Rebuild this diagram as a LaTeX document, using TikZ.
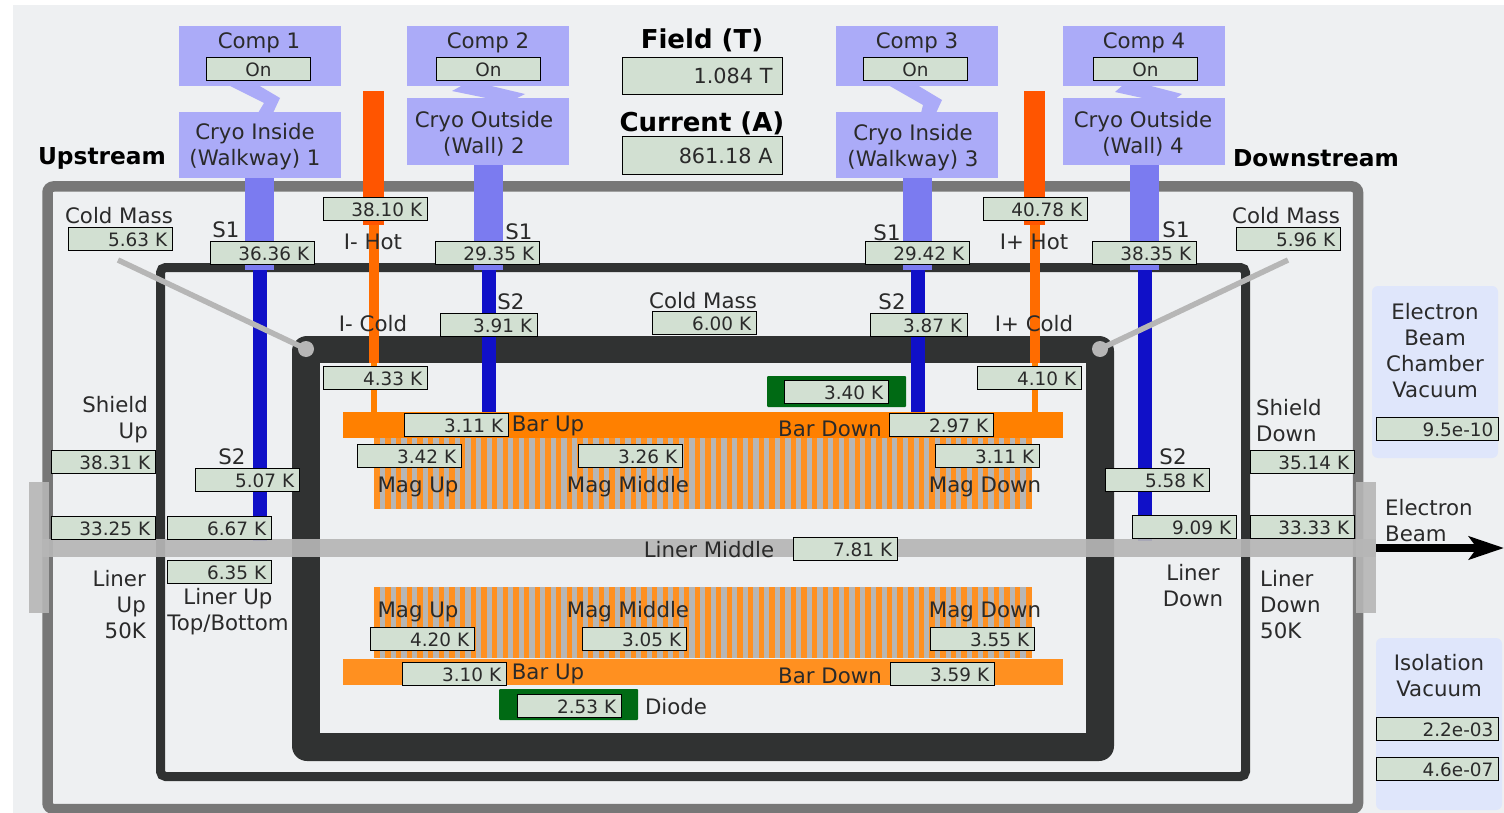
\documentclass[tikz,border=0pt]{standalone}
\usepackage{fontspec}
\setmainfont{DejaVu Sans}
\usetikzlibrary{arrows.meta}
\definecolor{panel}{HTML}{EEF0F2}
\definecolor{vessel}{HTML}{777777}
\definecolor{darkwall}{HTML}{303232}
\definecolor{compblue}{HTML}{ABABF8}
\definecolor{pipelight}{HTML}{7B7BF0}
\definecolor{pipedark}{HTML}{1010C8}
\definecolor{valfill}{HTML}{D2E0D2}
\definecolor{vacblue}{HTML}{DFE6FB}
\definecolor{hotA}{HTML}{FF5500}
\definecolor{hotB}{HTML}{FF6C00}
\definecolor{hotC}{HTML}{FF8000}
\definecolor{barB}{HTML}{FF9020}
\definecolor{magor}{HTML}{FF9020}
\definecolor{liner}{HTML}{B6B6B6}
\definecolor{diode}{HTML}{006A14}
\definecolor{ink}{HTML}{2A2A2A}
\tikzset{
  lab/.style={font=\fontsize{21.3}{26}\selectfont,text=ink,inner sep=0pt,align=center,yshift=-1.5pt},
  labl/.style={lab,align=left},
  labr/.style={lab,align=right},
  head/.style={font=\fontsize{23.3}{28}\selectfont\bfseries,text=black,inner sep=0pt},
  headbig/.style={head,font=\fontsize{26}{30}\selectfont\bfseries,yshift=-1.5pt},
  valbox/.style={draw=black,line width=1.4pt,fill=valfill,anchor=north west,inner xsep=5pt,inner ysep=0pt,
    minimum height=23pt,text height=15.5pt,text depth=0pt,align=right,font=\fontsize{18.4}{20}\selectfont,text=ink},
  bigbox/.style={draw=black,line width=1.4pt,fill=valfill,anchor=north west,minimum width=160pt,inner ysep=0pt,inner xsep=9.3pt,
    text width=140pt,align=right,font=\fontsize{20.8}{24}\selectfont,text=ink},
}
% \val[width]{name}{x}{y}{text}: x,y = top-left corner
\newcommand{\val}[5][105]{\node[valbox,text width=#1pt-11.4pt] (#2) at (#3,#4) {#5};}
\begin{document}
\begin{tikzpicture}[x=1pt,y=-1pt]
\useasboundingbox (0,0) rectangle (1504,813);
\clip (0,0) rectangle (1504,813);
\fill[panel] (13,5) rectangle (1504,813);
% vacuum panels
\fill[vacblue,rounded corners=6pt] (1372,286) rectangle (1498,458);
\fill[vacblue,rounded corners=6pt] (1376,638) rectangle (1502,810);
% walls
\draw[vessel,line width=10.5pt,rounded corners=6pt] (47.5,186.5) rectangle (1358,809);
\draw[darkwall,line width=9pt,rounded corners=5pt] (160.5,267.5) rectangle (1245.5,776.5);
\fill[darkwall,rounded corners=15pt] (292,336) rectangle (1114,761);
\fill[panel] (320,363) rectangle (1086,733);
% compressor links
\fill[compblue] (228,85) -- (258,85) -- (280,98) -- (273,113) -- (258,113) -- (264,103) -- cycle;
\fill[compblue] (463,85) -- (452,91) -- (491,99) -- (515,99) -- (525,94) -- (487,85) -- cycle;
\fill[compblue] (888,85) -- (917,85) -- (942,100) -- (936,113) -- (921,113) -- (923,105) -- cycle;
\fill[compblue] (1123,85) -- (1115,92) -- (1147,99) -- (1175,99) -- (1182,94) -- (1147,85) -- cycle;
% compressor and cryo boxes
\foreach \xa/\ya/\yb in {179/26/86,179/112/178,407/26/86,407/98/165,836/26/86,836/112/178,1063/26/86,1063/98/165}
  \fill[compblue] (\xa,\ya) rectangle ++(162,\yb-\ya);
% cryo pipes
\foreach \xa/\ya/\yd in {245/178/541,474/165/412,903/178/412,1130/165/541}{
  \fill[pipedark] (\xa+8,270) rectangle (\xa+22,\yd);
  \fill[pipelight] (\xa,\ya) rectangle (\xa+29,270);
}
% current leads
\foreach \xa in {363,1024}{
  \fill[hotC] (\xa+8,360) rectangle (\xa+14,412);
  \fill[hotB] (\xa+6,222) rectangle (\xa+16,363);
  \fill[hotA] (\xa,91) rectangle (\xa+21,225);
}
% magnet coils
\foreach \ya/\yb in {438/509,587/658}{
  \fill[magor] (374,\ya) rectangle (1032,\yb);
  \foreach \i in {0,...,60}
    \fill[liner] (380+10.67*\i,\ya) rectangle (385.3+10.67*\i,\yb);
}
% bars
\fill[hotC] (343,412) rectangle (1063,438);
\fill[barB] (343,659) rectangle (1063,685);
% diodes
\fill[diode,rounded corners=1pt] (767,376) rectangle (906,407);
\fill[diode,rounded corners=1pt] (499,689) rectangle (638,720);
% cold mass pointers
\draw[liner,line width=5.5pt] (118,260) -- (306,349);
\draw[liner,line width=5.5pt] (1288,260) -- (1100,349);
\fill[liner] (306,349) circle (8pt);
\fill[liner] (1100,349) circle (8pt);
% liner and flanges
\fill[liner,opacity=.9] (29,482) rectangle (49,613);
\fill[liner,opacity=.9] (1356,482) rectangle (1376,613);
\fill[liner,opacity=.92] (42,539) rectangle (1376,557);
% beam
\coordinate (beamstart) at (1376,548);
\coordinate (beamend) at (1504,548);
\draw[black,line width=8pt,-{Stealth[length=35pt,width=23pt,inset=8pt]}] (beamstart) -- (beamend);
% value boxes
\val{oncA}{206}{57}{\hfill On\hfill\null}
\val{oncB}{436}{57}{\hfill On\hfill\null}
\val{oncC}{863}{57}{\hfill On\hfill\null}
\val{oncD}{1093}{57}{\hfill On\hfill\null}
\node[bigbox,minimum height=37pt] (field) at (622,57) {1.084 T};
\node[bigbox,minimum height=38pt] (current) at (622,136) {861.18 A};
\val{cmL}{68}{227}{5.63 K}
\val{sA}{210}{241}{36.36 K}
\val{hotL}{323}{197}{38.10 K}
\val{coldL}{323}{366}{4.33 K}
\val{sB}{435}{241}{29.35 K}
\val[98]{ssB}{440}{313}{3.91 K}
\val{cmM}{652}{311}{6.00 K}
\val{sC}{865}{241}{29.42 K}
\val[98]{ssC}{870}{313}{3.87 K}
\val{hotR}{983}{197}{40.78 K}
\val{coldR}{977}{366}{4.10 K}
\val{sD}{1092}{241}{38.35 K}
\val{cmR}{1236}{227}{5.96 K}
\val{shL}{51}{450}{38.31 K}
\val{lL}{51}{516}{33.25 K}
\val{lU}{167}{516}{6.67 K}
\val{ssA}{195}{468}{5.07 K}
\val{lT}{167}{560}{6.35 K}
\val{barA}{404}{413}{3.11 K}
\val{barD}{889}{413}{2.97 K}
\val{magA}{357}{444}{3.42 K}
\val{magB}{578}{444}{3.26 K}
\val{magC}{935}{444}{3.11 K}
\val{ssD}{1105}{468}{5.58 K}
\val{lD}{1132}{515}{9.09 K}
\val{shR}{1250}{450}{35.14 K}
\val{lR}{1250}{515}{33.33 K}
\val{lM}{793}{537}{7.81 K}
\val{magD}{370}{627}{4.20 K}
\val{magE}{582}{627}{3.05 K}
\val{magF}{930}{627}{3.55 K}
\val{barE}{402}{662}{3.10 K}
\val{barF}{890}{662}{3.59 K}
\val{diodeA}{784}{380}{3.40 K}
\val{diodeB}{517}{694}{2.53 K}
\val[123]{vacA}{1376}{417}{9.5e-10}
\val[123]{vacB}{1376}{717}{2.2e-03}
\val[123]{vacC}{1376}{757}{4.6e-07}
% headings
\node[head] (up) at (102,158) {Upstream};
\node[head] (down) at (1316,158) {Downstream};
\node[headbig] (ft) at (702,39) {Field (T)};
\node[headbig] (ca) at (702,122) {Current (A)};
% labels
\node[lab] (c1) at (259,41) {Comp 1};
\node[lab] (c2) at (488,41) {Comp 2};
\node[lab] (c3) at (917,41) {Comp 3};
\node[lab] (c4) at (1144,41) {Comp 4};
\node[lab] (cr1) at (255,145) {Cryo Inside\\(Walkway) 1};
\node[lab] (cr2) at (484,132) {Cryo Outside\\(Wall) 2};
\node[lab] (cr3) at (913,146) {Cryo Inside\\(Walkway) 3};
\node[lab] (cr4) at (1143,132) {Cryo Outside\\(Wall) 4};
\node[lab] (tcmL) at (119,214) {Cold Mass};
\node[lab] (tcmM) at (703,299) {Cold Mass};
\node[lab] (tcmR) at (1286,214) {Cold Mass};
\node[lab] (ts1) at (226,228) {S1};
\node[lab] (ts2) at (519,230) {S1};
\node[lab] (ts3) at (887,231) {S1};
\node[lab] (ts4) at (1176,228) {S1};
\node[lab] (th1) at (373,240) {I- Hot};
\node[lab] (th2) at (1034,240) {I+ Hot};
\node[lab] (tc1) at (373,322) {I- Cold};
\node[lab] (tc2) at (1034,322) {I+ Cold};
\node[lab] (tt1) at (232,455) {S2};
\node[lab] (tt2) at (511,300) {S2};
\node[lab] (tt3) at (892,300) {S2};
\node[lab] (tt4) at (1173,455) {S2};
\node[labr,anchor=east] (tshL) at (148,418) {Shield\\Up};
\node[labl,anchor=west] (tshR) at (1256,419) {Shield\\Down};
\node[labr,anchor=east] (tlnL) at (146,603) {Liner\\Up\\50K};
\node[lab] (tlnT) at (228,610) {Liner Up\\Top/Bottom};
\node[lab] (tlnD) at (1193,584) {Liner\\Down};
\node[labl,anchor=west] (tlnR) at (1260,603) {Liner\\Down\\50K};
\node[lab] (tlnM) at (709,548) {Liner Middle};
\node[lab] (tvA) at (1435,349) {Electron\\Beam\\Chamber\\Vacuum};
\node[labl,anchor=west] (tbeam) at (1385,519) {Electron\\Beam};
\node[lab] (tvB) at (1439,674) {Isolation\\Vacuum};
\node[lab] (tbA) at (548,424) {Bar Up};
\node[lab] (tbB) at (830,427) {Bar Down};
\node[lab] (tmA) at (418,485) {Mag Up};
\node[lab] (tmB) at (628,485) {Mag Middle};
\node[lab] (tmC) at (985,485) {Mag Down};
\node[lab] (tmD) at (418,610) {Mag Up};
\node[lab] (tmE) at (628,610) {Mag Middle};
\node[lab] (tmF) at (985,610) {Mag Down};
\node[lab] (tbC) at (548,672) {Bar Up};
\node[lab] (tbD) at (830,674) {Bar Down};
\node[lab] (tdi) at (676,705) {Diode};
\end{tikzpicture}
\end{document}
